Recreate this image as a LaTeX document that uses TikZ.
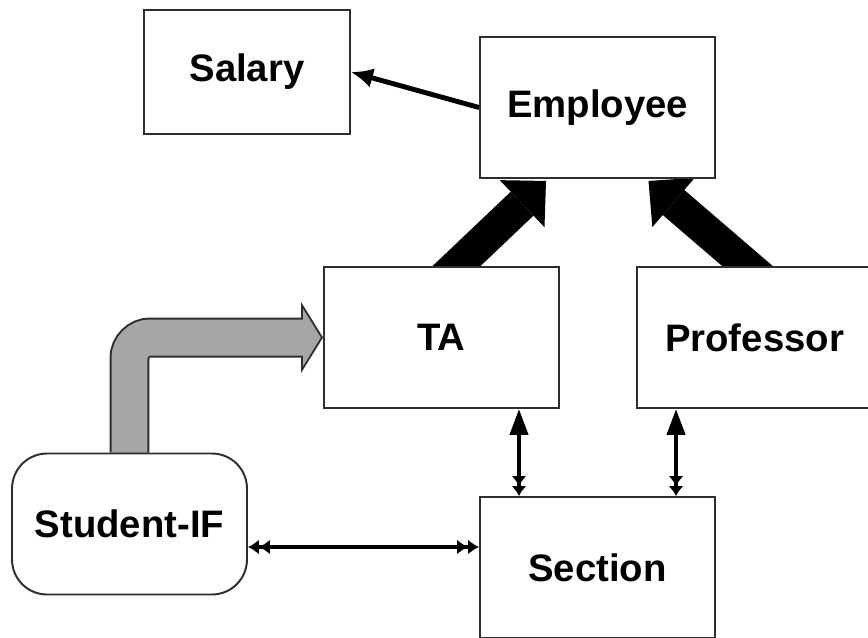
\documentclass[tikz,border=0pt]{standalone}
\usepackage{fontspec}
\setsansfont{Liberation Sans}
\definecolor{rim}{HTML}{2E2E2E}
\definecolor{shade}{HTML}{A6A6A6}
\usetikzlibrary{arrows.meta,backgrounds}

\begin{document}
\begin{tikzpicture}[x=0.02cm,y=-0.02cm,
  box/.style={draw=rim,fill=white,line width=1.1pt,minimum width=4.7cm,minimum height=2.82cm,
    font=\fontsize{21.8}{26}\selectfont\sffamily\bfseries},
  fat/.style={line width=0.66cm,shorten <=-0.6cm,-{Triangle[width=1.3cm,length=0.66cm,line width=0pt]}},
  uplink/.style={line width=2.4pt,{Triangle[width=0.36cm,length=0.52cm]}-{Latex[length=0.2cm,width=0.3cm] Latex[length=0.2cm,width=0.3cm]}},
  sidelink/.style={line width=2.4pt,{Latex[length=0.22cm,width=0.3cm] Latex[length=0.22cm,width=0.3cm]}-{Latex[length=0.22cm,width=0.3cm] Latex[length=0.22cm,width=0.3cm]}}]
\useasboundingbox (0,0) rectangle (868,637);
\node[box,minimum width=4.12cm,minimum height=2.48cm] (sal) at (247,72) {Salary};
\foreach \n/\x/\y/\t in {emp/597.5/107.5/Employee,ta/441.5/337.5/TA,prof/754.5/337.5/Professor,sec/597.5/567.5/Section}
  \node[box] (\n) at (\x,\y) {\t};
\node[box,rounded corners=0.7cm] (stu) at (129.5,524) {Student-IF};
\begin{scope}[on background layer]
% inheritance
\draw[fat] ([xshift=0.3cm]ta.north) -- ([xshift=-1.03cm,yshift=-0.04cm]emp.south);
\draw[fat] ([xshift=-0.14cm]prof.north) -- ([xshift=1.02cm,yshift=-0.04cm]emp.south);
% interface
\draw[line width=0.8cm,draw=rim,rounded corners=0.42cm,-{Triangle[width=1.42cm,length=0.44cm,line width=0pt]}] (stu.north) |- (ta.west);
\draw[line width=0.72cm,draw=shade,rounded corners=0.42cm,shorten >=0.047cm,-{Triangle[width=1.14cm,length=0.35cm,line width=0pt]}] (stu.north) |- (ta.west);
% associations
\draw[line width=2.8pt,-{Latex[length=0.44cm,width=0.4cm]}] (emp.west) -- (sal.east);
\draw[uplink] ([xshift=1.55cm]ta.south) -- ([xshift=1.55cm]ta.south |- sec.north);
\draw[uplink] ([xshift=-1.57cm]prof.south) -- ([xshift=-1.57cm]prof.south |- sec.north);
\draw[sidelink] ([yshift=-0.46cm]stu.east) -- ([yshift=-0.46cm]stu.east -| sec.west);
\end{scope}
\end{tikzpicture}
\end{document}
